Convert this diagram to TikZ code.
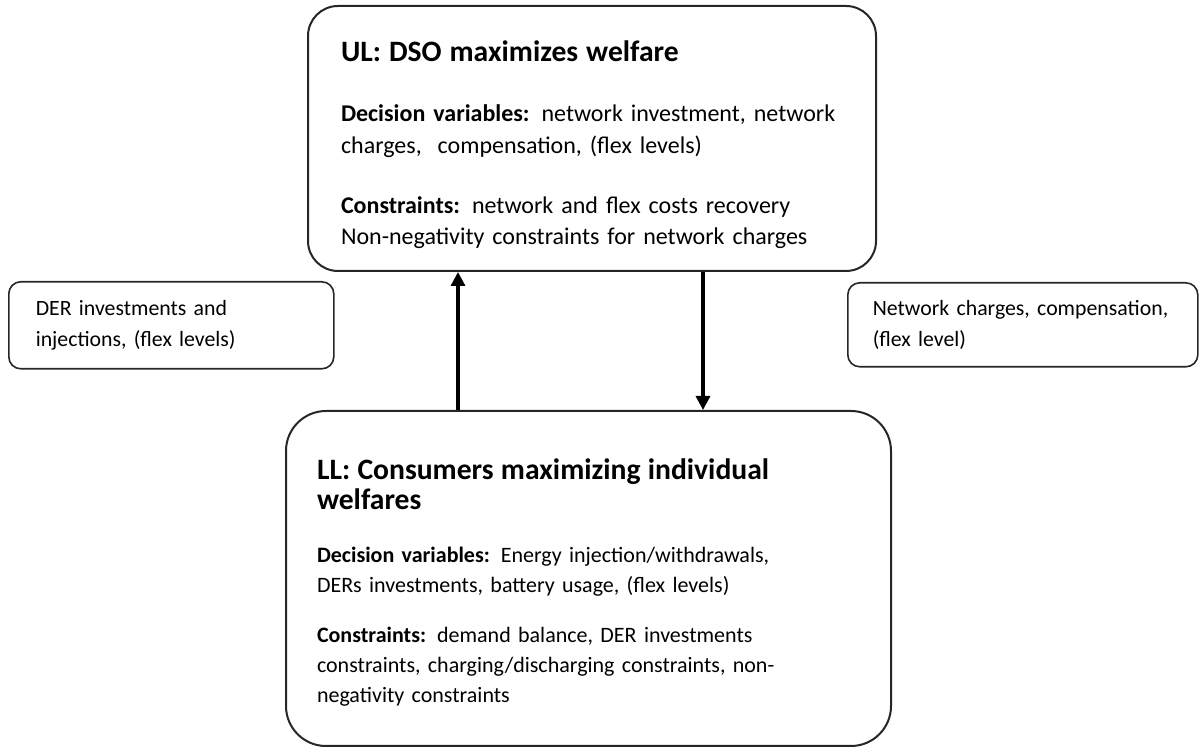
\documentclass[tikz,border=0pt]{standalone}
\usepackage{fontspec}
\setmainfont{Carlito}
\usetikzlibrary{arrows.meta}

\begin{document}
\begin{tikzpicture}[x=0.5pt, y=-0.5pt,
    level/.style={draw=black!85, line width=1pt, anchor=north west, align=left,
      inner ysep=0pt},
    info/.style={draw=black!85, line width=0.8pt, rounded corners=6pt, anchor=north west,
      align=left, inner ysep=0pt, font=\fontsize{10.9}{15.5}\selectfont},
    flow/.style={-{Triangle[width=7pt,length=7pt]}, line width=1.6pt}]
  \useasboundingbox (0,0) rectangle (1199,747);
  % the two levels
  \node[level, rounded corners=15pt, inner xsep=16.5pt, text width=251pt, minimum height=132.5pt,
      font=\fontsize{12}{15.8}\selectfont] (UL) at (307,5)
    {{\fontsize{14.8}{16}\selectfont\bfseries\rule{0pt}{16.5pt}UL: DSO maximizes welfare}\\[14.5pt]
     \textbf{Decision variables:} network investment, network\\
     charges,\ \ compensation, (flex levels)\\[14pt]
     \textbf{Constraints:} network and flex costs recovery\\
     Non-negativity constraints for network charges};
  \node[level, rounded corners=20pt, inner xsep=15.5pt, text width=271.5pt, minimum height=167.5pt,
      font=\fontsize{11}{15}\selectfont] (LL) at (285,410)
    {{\fontsize{14.8}{14.5}\selectfont\bfseries\rule{0pt}{14.5pt}LL: Consumers maximizing individual\\ welfares}\\[11.5pt]
     \textbf{Decision variables:} Energy injection/withdrawals,\\
     DERs investments, battery usage, (flex levels)\\[10pt]
     \textbf{Constraints:} demand balance, DER investments\\
     constraints, charging/discharging constraints, non-\\
     negativity constraints};
  % what goes up and down
  \node[info, inner xsep=13.5pt, text width=135.5pt, minimum height=43.5pt] (der) at (8,281)
    {DER investments and\\ injections, (flex levels)};
  \node[info, inner xsep=12.5pt, text width=150pt, minimum height=42pt] (charges) at (847,282)
    {Network charges, compensation,\\ (flex level)};
  \coordinate (up) at (458,0);
  \coordinate (down) at (703,0);
  \draw[flow] (LL.north -| up) -- (UL.south -| up);
  \draw[flow] (UL.south -| down) -- (LL.north -| down);
\end{tikzpicture}
\end{document}
